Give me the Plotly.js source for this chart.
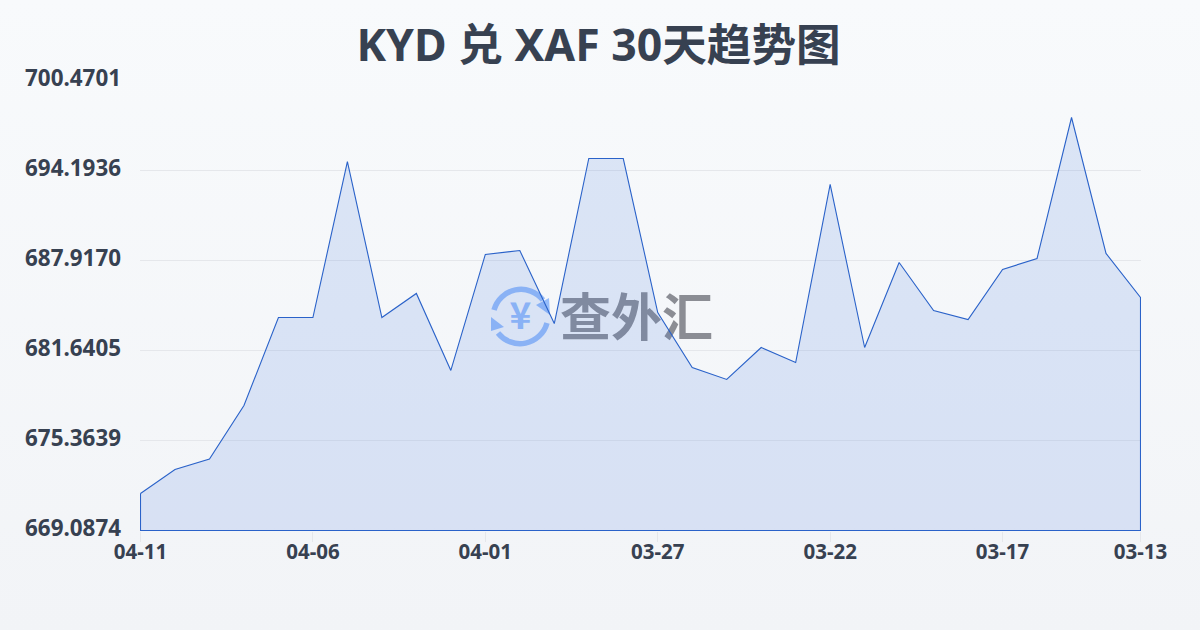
<!DOCTYPE html>
<html><head><meta charset="utf-8">
<script src="https://cdn.plot.ly/plotly-3.0.1.min.js"></script>
<style>
html,body{margin:0;padding:0;width:1200px;height:630px;overflow:hidden;background:linear-gradient(180deg,#f8fafc 0%,#f2f4f7 100%);}
#wm{position:absolute;left:0;top:0;width:1200px;height:630px;}
#chart{position:absolute;left:0;top:0;width:1200px;height:630px;}
</style></head><body>
<svg id="wm" width="1200" height="630" viewBox="0 0 1200 630">
  <g fill="none" stroke="#97bdfa" stroke-width="5.5">
    <path d="M494 310 A28 28 0 0 1 543 300"/>
    <path d="M547 323 A28 28 0 0 1 498 333"/>
  </g>
  <path d="M549 298 L550 315 L536 305 Z" fill="#97bdfa"/>
  <path d="M491 317 L491 331 L504 327 Z" fill="#97bdfa"/>
  <text x="520.5" y="329" text-anchor="middle" font-family="Noto Sans CJK SC" font-weight="700" font-size="37" fill="#97bdfa">¥</text>
  <text x="560" y="336" font-family="Noto Sans CJK SC" font-weight="700" font-size="51" fill="#8b8d94">查外汇</text>
</svg>
<div id="chart"></div>
<script>
const categories=["04-11","04-10","04-09","04-08","04-07","04-06","04-05","04-04","04-03","04-02","04-01","03-31","03-30","03-29","03-28","03-27","03-26","03-25","03-24","03-23","03-22","03-21","03-20","03-19","03-18","03-17","03-16","03-15","03-14","03-13"];
const rates=[671.67,673.34,674.07,677.80,683.94,683.94,694.82,683.94,685.62,680.25,688.34,688.61,683.52,695.03,695.03,684.29,680.45,679.62,681.85,680.80,693.22,681.85,687.78,684.43,683.80,687.29,688.06,697.89,688.41,685.34];
const yTicks=[669.0874,675.3639,681.6405,687.9170,694.1936,700.4701];
const xTickLabels=["04-11","04-06","04-01","03-27","03-22","03-17","03-13"];
const title="KYD 兑 XAF 30天趋势图";
const base=yTicks[0];
const last=categories.length-1;
const xs=categories.map((c,i)=>i);
const xTickVals=xTickLabels.map(l=>categories.indexOf(l));
const area={
  x:[...xs,last,0,0],
  y:[...rates,base,base,rates[0]],
  mode:"lines",type:"scatter",fill:"toself",cliponaxis:false,
  fillcolor:"rgba(74,122,222,0.16)",
  line:{color:"#2a62c9",width:1.1,simplify:false},
  hoverinfo:"skip"
};
const font="'Noto Sans','Noto Sans CJK SC',sans-serif";
Plotly.newPlot("chart",[area],{
  width:1200,height:630,
  paper_bgcolor:"rgba(0,0,0,0)",plot_bgcolor:"rgba(0,0,0,0)",
  margin:{l:140,r:59,t:80,b:99},
  showlegend:false,
  title:{text:"<b>"+title+"</b>",x:0.4988,xanchor:"center",y:0.928,yanchor:"middle",font:{family:font,size:44.6,color:"#374151"}},
  xaxis:{range:[-0.0145,last+0.0145],tickmode:"array",tickvals:xTickVals,ticktext:xTickLabels,showgrid:false,zeroline:false,showline:false,
    ticks:"outside",ticklen:10,tickcolor:"#e5e7eb",tickwidth:1,tickangle:0,ticklabelstandoff:-8,
    tickfont:{family:font,size:20.5,color:"#374151",weight:700}},
  yaxis:{range:[yTicks[0]-0.0349,yTicks[5]+0.0349],tickmode:"array",tickvals:yTicks,ticktext:yTicks.map(v=>v.toFixed(4)),
    showgrid:true,gridcolor:"#e5e7eb",gridwidth:1,zeroline:false,showline:false,ticks:"",ticklabelstandoff:18,ticklabelshift:-2,
    tickfont:{family:font,size:22.4,color:"#374151",weight:700}}
},{displayModeBar:false,staticPlot:true});
</script></body></html>
